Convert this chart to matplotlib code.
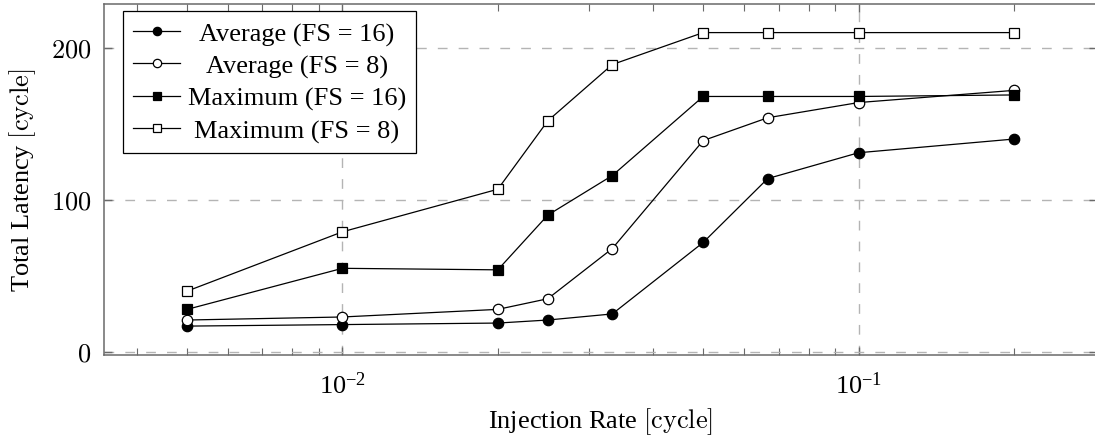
import matplotlib
matplotlib.use("Agg")
import matplotlib.pyplot as plt
from matplotlib.ticker import LogLocator, FixedLocator, NullFormatter

# injection rates and latencies
rates = [0.005, 0.01, 0.02, 0.025, 1 / 30, 0.05, 1 / 15, 0.1, 0.2]
avg_fs16 = [17, 18, 19, 21, 25, 72, 114, 131, 140]
avg_fs8 = [21, 23, 28, 35, 68, 139, 154, 164, 172]
max_fs16 = [28, 55, 54, 90, 116, 168, 168, 168, 169]
max_fs8 = [40, 79, 107, 152, 189, 210, 210, 210, 210]

labels = ["Average (FS = 16)", "Average (FS = 8)",
          "Maximum (FS = 16)", "Maximum (FS = 8)"]
y_ticks = [0, 100, 200]

plt.rcParams["font.family"] = ["Liberation Serif", "DejaVu Serif"]
plt.rcParams["mathtext.fontset"] = "cm"
plt.rcParams["lines.scale_dashes"] = False

DPI = 100
fig = plt.figure(figsize=(1095 / DPI, 439 / DPI), dpi=DPI)
ax = fig.add_axes([104 / 1095, 1 - 356 / 439, (1097 - 104) / 1095, (356 - 4.7) / 439])

series = [
    (avg_fs16, dict(marker="o", mfc="black")),
    (avg_fs8, dict(marker="o", mfc="white")),
    (max_fs16, dict(marker="s", mfc="black")),
    (max_fs8, dict(marker="s", mfc="white")),
]
for (vals, style), lab in zip(series, labels):
    ax.plot(rates, vals, color="black", lw=0.9, mec="black", mew=0.9,
            ms=7.5, label=lab, zorder=3, **style)

ax.set_xscale("log")
ax.set_xlim(10 ** -2.462, 10 ** -0.538)
ax.set_ylim(-2, 229)

ax.xaxis.set_major_locator(LogLocator(base=10, numticks=10))
ax.xaxis.set_minor_locator(LogLocator(base=10, subs=range(2, 10), numticks=20))
ax.xaxis.set_minor_formatter(NullFormatter())
ax.yaxis.set_major_locator(FixedLocator(y_ticks))
ax.set_yticklabels([f"${v}$" for v in y_ticks])

ax.grid(True, which="major", color="#b4b4b4", lw=1.0, ls=(0, (7, 8)))
ax.set_axisbelow(True)

for s in ax.spines.values():
    s.set_color("#6a6a6a")
    s.set_linewidth(1.1)

ax.tick_params(which="both", direction="in", top=True, right=True,
               color="#6a6a6a", labelsize=19)
ax.tick_params(which="major", length=6, width=1.0)
ax.tick_params(which="minor", length=5, width=0.8)
ax.tick_params(axis="x", which="major", pad=12)
ax.tick_params(axis="y", which="major", pad=9)

ax.set_xlabel(r"Injection Rate $[\mathrm{cycle}]$", fontsize=19, labelpad=5)
ax.set_ylabel(r"Total Latency $[\mathrm{cycle}]$", fontsize=19, labelpad=9)

leg = ax.legend(loc="upper left", bbox_to_anchor=(0.019, 0.979),
                fontsize=19, frameon=True, fancybox=False,
                edgecolor="black", framealpha=1, handlelength=1.75,
                handletextpad=0.3, labelspacing=0.32, borderpad=0.4,
                borderaxespad=0, markerscale=0.8)
leg.get_frame().set_linewidth(0.9)
leg.set_zorder(5)

# center the legend text like pgfplots does
fig.canvas.draw()
r = fig.canvas.get_renderer()
texts = leg.get_texts()
widths = [t.get_window_extent(r).width for t in texts]
wmax = max(widths)
for t, w in zip(texts, widths):
    t.set_x((wmax - w) / 2)

fig.savefig("out.png", dpi=DPI)
